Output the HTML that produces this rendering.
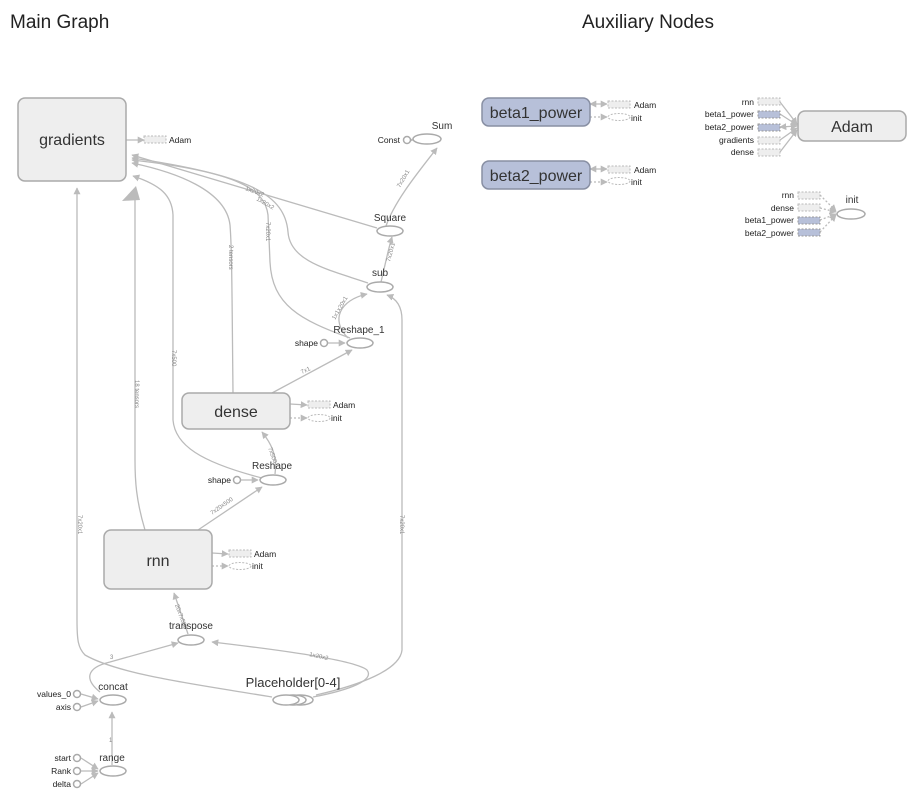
<!DOCTYPE html>
<html><head><meta charset="utf-8"><style>
html,body{margin:0;padding:0;background:#fff;}
svg{display:block;font-family:"Liberation Sans",sans-serif;}
</style></head><body>
<svg width="922" height="802" viewBox="0 0 922 802" xmlns="http://www.w3.org/2000/svg">
<defs>
<marker id="a" viewBox="0 0 10 10" refX="9" refY="5" markerWidth="7" markerHeight="7" orient="auto" markerUnits="userSpaceOnUse"><path d="M0,0L10,5L0,10z" fill="#bbb"/></marker>
<marker id="a2" viewBox="0 0 10 10" refX="1" refY="5" markerWidth="7" markerHeight="7" orient="auto" markerUnits="userSpaceOnUse"><path d="M10,0L0,5L10,10z" fill="#bbb"/></marker>
</defs>
<text x="10" y="28" font-size="19" fill="#222">Main Graph</text>
<text x="582" y="28" font-size="19" fill="#222">Auxiliary Nodes</text>

<g fill="none" stroke="#bbb" stroke-width="1.3">
<path d="M126,140L144,140" marker-end="url(#a)"/>
<path d="M411,140L413,140" marker-end="url(#a)"/>
<path d="M386,226C395,200 420,170 437,148" marker-end="url(#a)"/>
<path d="M381,282C384,270 388,250 392,237" marker-end="url(#a)"/>
<path d="M377,228L132,155" marker-end="url(#a)"/>
<path d="M368,283C330,270 290,262 288,232C285,195 250,175 132,158" marker-end="url(#a)"/>
<path d="M350,338C300,320 272,305 270,262L268,215C265,190 240,172 132,160" marker-end="url(#a)"/>
<path d="M348,338C330,320 340,300 367,294" marker-end="url(#a)"/>
<path d="M328,343L345,343" marker-end="url(#a)"/>
<path d="M272,393L352,350" marker-end="url(#a)"/>
<path d="M233,393C232,300 232,250 230,225C226,190 175,172 132,163" marker-end="url(#a)"/>
<path d="M275,474C278,455 270,442 262,432" marker-end="url(#a)"/>
<path d="M262,478C200,462 175,445 173,420L173,215C172,195 160,185 133,176" marker-end="url(#a)"/>
<path d="M241,480L258,480" marker-end="url(#a)"/>
<path d="M198,530L262,487" marker-end="url(#a)"/>
<path d="M145,530C136,500 135,480 135,460L135,200"/>
<path d="M212,553L228,554" marker-end="url(#a)"/>
<path d="M212,566L228,566" stroke-dasharray="2,2" marker-end="url(#a)"/>
<path d="M290,404L307,405" marker-end="url(#a)"/>
<path d="M290,418L307,418" stroke-dasharray="2,2" marker-end="url(#a)"/>
<path d="M188,634L174,593" marker-end="url(#a)"/>
<path d="M313,697C350,690 375,680 367,670C355,660 280,650 212,642" marker-end="url(#a)"/>
<path d="M100,692C85,680 85,668 110,662L178,643" marker-end="url(#a)"/>
<path d="M272,697C200,685 120,675 85,655C78,648 77,640 77,620L77,188" marker-end="url(#a)"/>
<path d="M316,695C360,685 400,670 402,650L402,320C402,305 395,298 387,295" marker-end="url(#a)"/>
<path d="M112,765L112,712" marker-end="url(#a)"/>
<path d="M81,694L98,699" marker-end="url(#a)"/>
<path d="M81,707L98,701" marker-end="url(#a)"/>
<path d="M81,758L98,769" marker-end="url(#a)"/>
<path d="M81,771L98,771" marker-end="url(#a)"/>
<path d="M81,784L98,773" marker-end="url(#a)"/>
<path d="M590,104L607,104" marker-start="url(#a2)" marker-end="url(#a)"/>
<path d="M590,117L607,117" stroke-dasharray="2,2" marker-end="url(#a)"/>
<path d="M590,169L607,169" marker-start="url(#a2)" marker-end="url(#a)"/>
<path d="M590,182L607,182" stroke-dasharray="2,2" marker-end="url(#a)"/>
<path d="M780,102L797,124" marker-end="url(#a)"/>
<path d="M780,114L797,125" marker-end="url(#a)"/>
<path d="M780,127L797,126" marker-start="url(#a2)" marker-end="url(#a)"/>
<path d="M780,140L797,128" marker-end="url(#a)"/>
<path d="M780,152L797,130" marker-end="url(#a)"/>
<g stroke-dasharray="2,2">
<path d="M820,195L836,211" marker-end="url(#a)"/>
<path d="M820,208L836,212" marker-end="url(#a)"/>
<path d="M820,220L836,214" marker-end="url(#a)"/>
<path d="M820,232L836,215" marker-end="url(#a)"/>
</g>
</g>
<path d="M122,201L136,186L140,200z" fill="#bbb"/>

<g font-size="6" fill="#888">
<text transform="translate(135,380) rotate(90)">18 tensors</text>
<text transform="translate(172,350) rotate(90)">7x500</text>
<text transform="translate(229,245) rotate(90)">2 tensors</text>
<text transform="translate(266,222) rotate(90)">7x20x1</text>
<text transform="translate(78,515) rotate(90)">7x20x1</text>
<text transform="translate(400,515) rotate(90)">7x20x1</text>
<text transform="translate(245,190) rotate(20)">1x20x2</text>
<text transform="translate(256,200) rotate(30)">1x20x2</text>
<text transform="translate(400,188) rotate(-60)">7x20x1</text>
<text transform="translate(390,262) rotate(-75)">7x20x1</text>
<text transform="translate(335,320) rotate(-60)">1x1x20x1</text>
<text transform="translate(302,374) rotate(-25)">7x1</text>
<text transform="translate(212,515) rotate(-35)">7x20x500</text>
<text transform="translate(268,448) rotate(70)">7x500</text>
<text transform="translate(175,605) rotate(70)">20x7x500</text>
<text transform="translate(309,656) rotate(12)">1x20x2</text>
<text x="110" y="659">3</text>
<text x="109" y="742">1</text>
</g>

<g fill="#eee" stroke="#aaa" stroke-width="1.5">
<rect x="18" y="98" width="108" height="83" rx="7"/>
<rect x="182" y="393" width="108" height="36" rx="7"/>
<rect x="104" y="530" width="108" height="59" rx="7"/>
<rect x="798" y="111" width="108" height="30" rx="7"/>
</g>
<g fill="#b7c0d9" stroke="#888fa3" stroke-width="1.5">
<rect x="482" y="98" width="108" height="28" rx="7"/>
<rect x="482" y="161" width="108" height="28" rx="7"/>
</g>
<g fill="#fff" stroke="#aaa" stroke-width="1.5">
<ellipse cx="427" cy="139" rx="14" ry="5"/>
<ellipse cx="390" cy="231" rx="13" ry="5"/>
<ellipse cx="380" cy="287" rx="13" ry="5"/>
<ellipse cx="360" cy="343" rx="13" ry="5"/>
<ellipse cx="273" cy="480" rx="13" ry="5"/>
<ellipse cx="191" cy="640" rx="13" ry="5"/>
<ellipse cx="300" cy="700" rx="13" ry="5"/>
<ellipse cx="293" cy="700" rx="13" ry="5"/>
<ellipse cx="286" cy="700" rx="13" ry="5"/>
<ellipse cx="113" cy="700" rx="13" ry="5"/>
<ellipse cx="113" cy="771" rx="13" ry="5"/>
<ellipse cx="851" cy="214" rx="14" ry="5"/>
<circle cx="407" cy="140" r="3.5"/>
<circle cx="324" cy="343" r="3.5"/>
<circle cx="237" cy="480" r="3.5"/>
<circle cx="77" cy="694" r="3.5"/>
<circle cx="77" cy="707" r="3.5"/>
<circle cx="77" cy="758" r="3.5"/>
<circle cx="77" cy="771" r="3.5"/>
<circle cx="77" cy="784" r="3.5"/>
</g>
<g stroke-dasharray="2,1.5" stroke-width="1">
<rect x="144" y="136" width="22" height="7" fill="#eee" stroke="#bbb"/>
<rect x="308" y="401" width="22" height="7" fill="#eee" stroke="#bbb"/>
<ellipse cx="319" cy="418" rx="11" ry="3.5" fill="#fff" stroke="#bbb"/>
<rect x="229" y="550" width="22" height="7" fill="#eee" stroke="#bbb"/>
<ellipse cx="240" cy="566" rx="11" ry="3.5" fill="#fff" stroke="#bbb"/>
<rect x="608" y="101" width="22" height="7" fill="#eee" stroke="#bbb"/>
<ellipse cx="619" cy="117" rx="11" ry="3.5" fill="#fff" stroke="#bbb"/>
<rect x="608" y="166" width="22" height="7" fill="#eee" stroke="#bbb"/>
<ellipse cx="619" cy="181" rx="11" ry="3.5" fill="#fff" stroke="#bbb"/>
<rect x="758" y="98" width="22" height="7" fill="#eee" stroke="#bbb"/>
<rect x="758" y="111" width="22" height="7" fill="#b7c0d9" stroke="#999"/>
<rect x="758" y="124" width="22" height="7" fill="#b7c0d9" stroke="#999"/>
<rect x="758" y="137" width="22" height="7" fill="#eee" stroke="#bbb"/>
<rect x="758" y="149" width="22" height="7" fill="#eee" stroke="#bbb"/>
<rect x="798" y="192" width="22" height="7" fill="#eee" stroke="#bbb"/>
<rect x="798" y="204" width="22" height="7" fill="#eee" stroke="#bbb"/>
<rect x="798" y="217" width="22" height="7" fill="#b7c0d9" stroke="#999"/>
<rect x="798" y="229" width="22" height="7" fill="#b7c0d9" stroke="#999"/>
</g>

<g fill="#333" text-anchor="middle" font-size="16">
<text x="72" y="145">gradients</text>
<text x="236" y="417">dense</text>
<text x="158" y="566">rnn</text>
<text x="536" y="118">beta1_power</text>
<text x="536" y="181">beta2_power</text>
<text x="852" y="132">Adam</text>
</g>
<g fill="#333" text-anchor="middle" font-size="10">
<text x="442" y="129">Sum</text>
<text x="390" y="221">Square</text>
<text x="380" y="276">sub</text>
<text x="359" y="333">Reshape_1</text>
<text x="272" y="469">Reshape</text>
<text x="191" y="629">transpose</text>
<text x="113" y="690">concat</text>
<text x="112" y="761">range</text>
<text x="852" y="203">init</text>
<text x="293" y="687" font-size="13">Placeholder[0-4]</text>
</g>
<g fill="#222" font-size="8.5">
<text x="169" y="143">Adam</text>
<text x="333" y="408">Adam</text>
<text x="331" y="421">init</text>
<text x="254" y="557">Adam</text>
<text x="252" y="569">init</text>
<text x="634" y="108">Adam</text>
<text x="631" y="121">init</text>
<text x="634" y="173">Adam</text>
<text x="631" y="185">init</text>
</g>
<g fill="#222" font-size="8.5" text-anchor="end">
<text x="400" y="143">Const</text>
<text x="318" y="346">shape</text>
<text x="231" y="483">shape</text>
<text x="71" y="697">values_0</text>
<text x="71" y="710">axis</text>
<text x="71" y="761">start</text>
<text x="71" y="774">Rank</text>
<text x="71" y="787">delta</text>
<text x="754" y="105">rnn</text>
<text x="754" y="117">beta1_power</text>
<text x="754" y="130">beta2_power</text>
<text x="754" y="143">gradients</text>
<text x="754" y="155">dense</text>
<text x="794" y="198">rnn</text>
<text x="794" y="211">dense</text>
<text x="794" y="223">beta1_power</text>
<text x="794" y="236">beta2_power</text>
</g>
</svg>
</body></html>
